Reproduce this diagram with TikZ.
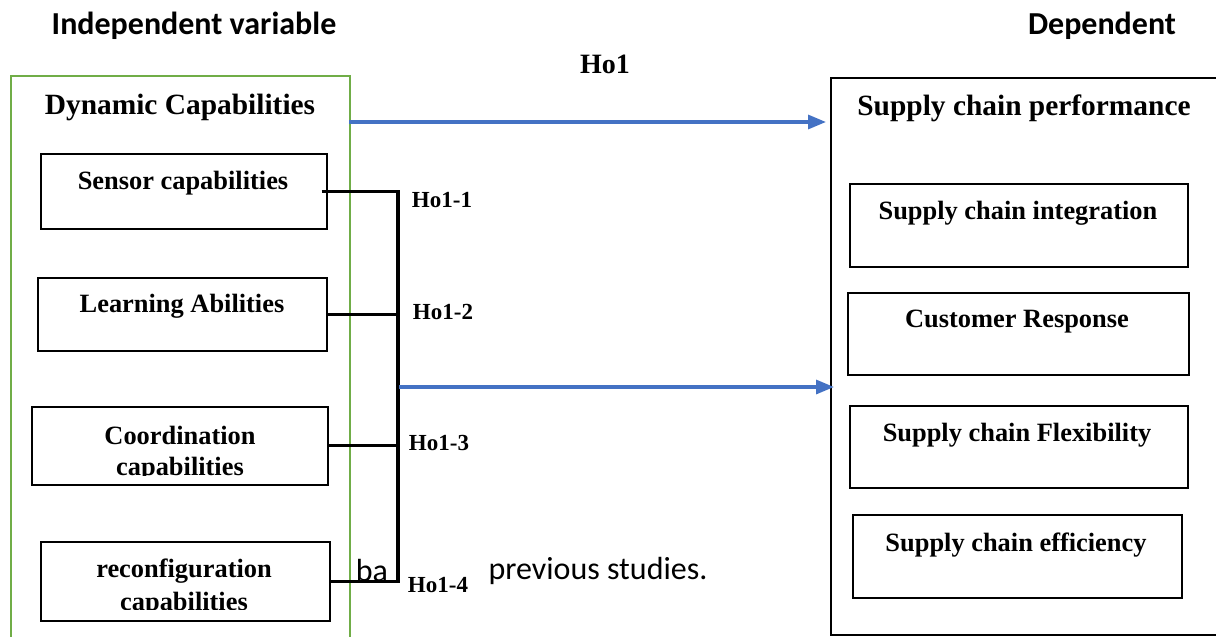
\documentclass[tikz,border=0pt]{standalone}
\usepackage{fontspec}
\setmainfont{Liberation Serif}
\newfontfamily\calib{Carlito}
\usetikzlibrary{arrows.meta,calc}
\definecolor{offgreen}{HTML}{70AD47}
\definecolor{offblue}{HTML}{4472C4}
\begin{document}
\begin{tikzpicture}[x=0.5pt,y=-0.5pt,
  wh/.style 2 args={minimum width=#1*0.5pt,minimum height=#2*0.5pt},
  boxs/.style={draw=black,line width=0.8pt,inner sep=0pt,anchor=north west},
  htxt/.style={font=\calib\fontsize{16}{19}\selectfont\bfseries,inner sep=0pt},
  ttl/.style={font=\fontsize{14.7}{17}\selectfont\bfseries,inner sep=0pt},
  btxt/.style={font=\fontsize{13.2}{16}\selectfont\bfseries,inner sep=0pt,align=center},
  hlab/.style={font=\fontsize{11.5}{14}\selectfont\bfseries,inner sep=0pt},
  brk/.style={line width=1.6pt,black},
  barrow/.style={line width=1.6pt,offblue,-{Triangle[length=9pt,width=7pt]}},
  note/.style={font=\calib\fontsize{16}{19}\selectfont,inner sep=0pt}]
\useasboundingbox (0,0) rectangle (1216,637);
\clip (0,0) rectangle (1216,637);
% headers
\node[htxt] (indep) at (194,26) {Independent variable};
\node[htxt] (dep) at (1102,26) {Dependent};
\node[font=\fontsize{14}{17}\selectfont\bfseries,inner sep=0pt] (ho1) at (605,64) {Ho1};
% outer boxes
\node[draw=offgreen,line width=1pt,wh={339}{600},inner sep=0pt,anchor=north west] (dyn) at (10,75) {};
\node[draw=black,line width=0.9pt,wh={420}{557},inner sep=0pt,anchor=north west] (scp) at (830,77) {};
\node[ttl] (dynT) at (180,107) {Dynamic Capabilities};
\node[ttl] (scpT) at (1024,108) {Supply chain performance};
% note text fragments
\node[note] (ba) at (372,571) {ba};
\node[note] (prev) at (598,571) {previous studies.};
% left boxes
\node[boxs,wh={286}{75}] (sensor) at (40,153) {};
\node[btxt] (sensorT) at (183,183) {Sensor capabilities};
\node[boxs,wh={289}{73}] (learn) at (37,277) {};
\node[btxt] (learnT) at (182,306) {Learning Abilities};
\node[boxs,wh={296}{78}] (coord) at (31,406) {};
\node[btxt] (coordT) at (180,435) {Coordination};
\begin{scope}
\clip (31,406) rectangle (327,475);
\node[btxt] (coordT2) at (180,469) {capabilities};
\end{scope}
\node[boxs,wh={289}{79}] (recon) at (40,541) {};
\node[btxt] (reconT) at (184,571) {reconfiguration};
\begin{scope}
\clip (40,541) rectangle (329,609);
\node[btxt] (reconT2) at (184,604) {capabilities};
\end{scope}
% right boxes
\node[boxs,wh={338}{83}] (integ) at (849,183) {};
\node[btxt] (integT) at (1018,213) {Supply chain integration};
\node[boxs,wh={341}{82}] (cust) at (847,292) {};
\node[btxt] (custT) at (1017,322) {Customer Response};
\node[boxs,wh={338}{82}] (flex) at (849,405) {};
\node[btxt] (flexT) at (1017,435) {Supply chain Flexibility};
\node[boxs,wh={329}{83}] (eff) at (852,514) {};
\node[btxt] (effT) at (1016,545) {Supply chain efficiency};
% bracket
\coordinate (bus) at (398,0);
\draw[brk] ([xshift=-3pt]sensor.east) -| (bus |- recon.east) -- (recon.east);
\draw[brk] (learn.east) -- (bus |- learn.east);
\draw[brk] (coord.east) -- (bus |- coord.east);
% labels
\node[hlab] (h1) at (442,200) {Ho1-1};
\node[hlab] (h2) at (443,312) {Ho1-2};
\node[hlab] (h3) at (439,443) {Ho1-3};
\node[hlab] (h4) at (438,585) {Ho1-4};
% arrows
\coordinate (a1) at (349,122);
\draw[barrow] (a1) -- ([xshift=-2pt]scp.west |- a1);
\coordinate (a2) at (399,387);
\draw[barrow] (a2) -- ([xshift=2pt]scp.west |- a2);
\end{tikzpicture}
\end{document}
